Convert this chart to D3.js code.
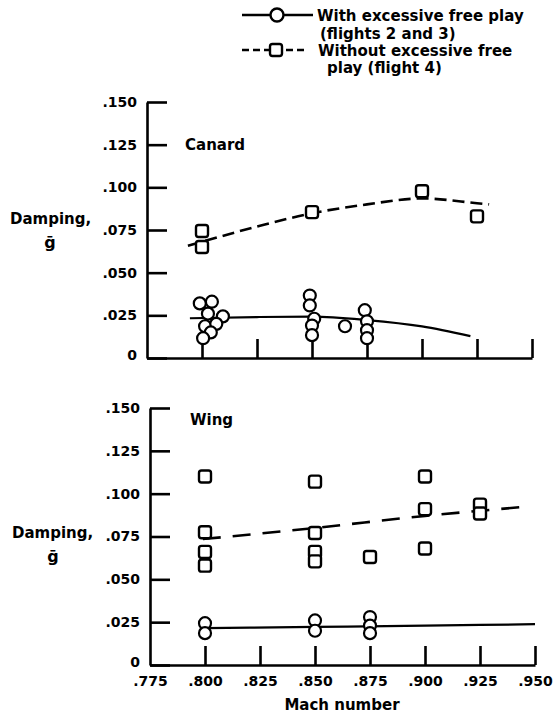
<!DOCTYPE html>
<html>
<head>
<meta charset="utf-8">
<script src="https://cdn.jsdelivr.net/npm/d3@7/dist/d3.min.js"></script>
<style>
  html, body { margin: 0; padding: 0; background: #fff; }
  svg { display: block; }
  text { font-family: "DejaVu Sans", "Liberation Sans", sans-serif; font-weight: bold; fill: #000; }
</style>
</head>
<body>
<svg id="chart" width="555" height="717"></svg>
<script>
// ---------- data ----------
const yTicks = [0, 0.025, 0.05, 0.075, 0.1, 0.125, 0.15];
const yTickLabels = ["0", ".025", ".050", ".075", ".100", ".125", ".150"];
const xTicks = [0.775, 0.8, 0.825, 0.85, 0.875, 0.9, 0.925, 0.95];
const xTickLabels = [".775", ".800", ".825", ".850", ".875", ".900", ".925", ".950"];

// Canard panel
const canardCircleMach = [0.799, 0.8045, 0.8027, 0.8095, 0.8014, 0.8065, 0.804, 0.8005,
                          0.849, 0.849, 0.851, 0.850, 0.850, 0.865,
                          0.874, 0.875, 0.875, 0.875];
const canardCircleDamping = [0.032, 0.033, 0.026, 0.0244, 0.0186, 0.020, 0.015, 0.0116,
                             0.0366, 0.0308, 0.023, 0.019, 0.0134, 0.0186,
                             0.028, 0.0215, 0.0163, 0.0116];
const canardSquareMach = [0.800, 0.800, 0.850, 0.900, 0.925];
const canardSquareDamping = [0.0744, 0.065, 0.0855, 0.0977, 0.083];
const canardSolidMach = [0.7945, 0.825, 0.850, 0.875, 0.900, 0.922];
const canardSolidDamping = [0.0233, 0.0240, 0.0242, 0.0222, 0.0185, 0.0128];
const canardDashMach = [0.7936, 0.825, 0.850, 0.875, 0.900, 0.925, 0.9305];
const canardDashDamping = [0.0657, 0.077, 0.0848, 0.090, 0.0935, 0.0907, 0.090];

// Wing panel
const wingCircleMach = [0.800, 0.800, 0.850, 0.850, 0.875, 0.875, 0.875];
const wingCircleDamping = [0.0244, 0.0186, 0.026, 0.020, 0.028, 0.023, 0.0186];
const wingSquareMach = [0.800, 0.800, 0.800, 0.800, 0.850, 0.850, 0.850, 0.850, 0.875,
                        0.900, 0.900, 0.900, 0.925, 0.925];
const wingSquareDamping = [0.110, 0.0775, 0.066, 0.058, 0.107, 0.077, 0.066, 0.0605, 0.063,
                           0.110, 0.091, 0.068, 0.0936, 0.0884];
const wingSolidMach = [0.800, 0.850, 0.900, 0.950];
const wingSolidDamping = [0.0215, 0.0222, 0.0230, 0.0238];
const wingDashMach = [0.799, 0.850, 0.900, 0.946];
const wingDashDamping = [0.0735, 0.080, 0.087, 0.0924];

const legendLabels = [["With excessive free play", "(flights 2 and 3)"],
                      ["Without excessive free", "play (flight 4)"]];

// ---------- drawing ----------
const svg = d3.select("#chart");
const zip = (a, b) => a.map((v, i) => [v, b[i]]);

function panel(opts) {
  const x = d3.scaleLinear().domain([0.775, 0.95]).range([opts.x0, opts.x1]);
  const y = d3.scaleLinear().domain([0, 0.15]).range([opts.y0, opts.y1]);
  const g = svg.append("g");

  // y axis
  const ya = d3.axisLeft(y).tickValues(yTicks)
    .tickFormat((d, i) => yTickLabels[i])
    .tickSizeInner(-20).tickSizeOuter(0).tickPadding(10);
  const yg = g.append("g").attr("transform", `translate(${opts.x0},0)`).call(ya);
  // x axis
  const xa = d3.axisBottom(x).tickValues(xTicks)
    .tickFormat((d, i) => opts.xLabels ? xTickLabels[i] : "")
    .tickSizeInner(-19).tickSizeOuter(0).tickPadding(11);
  const xg = g.append("g").attr("transform", `translate(0,${opts.y0})`).call(xa);
  [yg, xg].forEach(a => {
    a.selectAll("path, line").attr("stroke", "#000").attr("stroke-width", 2.6);
    a.selectAll("text").style("font-size", "14px").style("font-family", "DejaVu Sans")
      .style("font-weight", "bold").attr("fill", "#000");
  });
  xg.selectAll(".tick").filter(d => d === 0.775).select("line").remove();
  yg.selectAll(".tick").filter(d => d === 0).select("text").attr("dy", "0.1em");

  const line = d3.line().x(d => x(d[0])).y(d => y(d[1])).curve(d3.curveMonotoneX);
  g.append("path").datum(zip(opts.solidMach, opts.solidDamping))
    .attr("d", line).attr("fill", "none").attr("stroke", "#000").attr("stroke-width", 2.2);
  g.append("path").datum(zip(opts.dashMach, opts.dashDamping))
    .attr("d", line).attr("fill", "none").attr("stroke", "#000").attr("stroke-width", 2.6)
    .attr("stroke-dasharray", opts.dash);

  g.selectAll("rect.sq").data(zip(opts.sqMach, opts.sqDamping)).enter().append("rect")
    .attr("class", "sq")
    .attr("x", d => x(d[0]) - 6).attr("y", d => y(d[1]) - 6)
    .attr("width", 12).attr("height", 12).attr("rx", 2.5)
    .attr("fill", "#fff").attr("stroke", "#000").attr("stroke-width", 2.4);
  g.selectAll("circle.ci").data(zip(opts.ciMach, opts.ciDamping)).enter().append("circle")
    .attr("class", "ci")
    .attr("cx", d => x(d[0])).attr("cy", d => y(d[1])).attr("r", 6)
    .attr("fill", "#fff").attr("stroke", "#000").attr("stroke-width", 2.2);

  g.append("text").attr("x", opts.titleX).attr("y", opts.titleY)
    .style("font-size", "15px").text(opts.title);
  g.append("text").attr("x", opts.dampX).attr("y", opts.dampY)
    .style("font-size", "15px").text("Damping,");
  g.append("text").attr("x", opts.gX).attr("y", opts.dampY + 24)
    .attr("text-anchor", "middle").style("font-size", "16px").text("ḡ");
  return { x, y };
}

panel({ x0: 147, x1: 532, y0: 358, y1: 102, xLabels: false,
  ciMach: canardCircleMach, ciDamping: canardCircleDamping,
  sqMach: canardSquareMach, sqDamping: canardSquareDamping,
  solidMach: canardSolidMach, solidDamping: canardSolidDamping,
  dashMach: canardDashMach, dashDamping: canardDashDamping, dash: "12,6",
  title: "Canard", titleX: 185, titleY: 150, dampX: 10, dampY: 224, gX: 50 });

panel({ x0: 150, x1: 535, y0: 665, y1: 408, xLabels: true,
  ciMach: wingCircleMach, ciDamping: wingCircleDamping,
  sqMach: wingSquareMach, sqDamping: wingSquareDamping,
  solidMach: wingSolidMach, solidDamping: wingSolidDamping,
  dashMach: wingDashMach, dashDamping: wingDashDamping, dash: "18,12",
  title: "Wing", titleX: 190, titleY: 425, dampX: 12, dampY: 538, gX: 53 });

svg.append("text").attr("x", 342).attr("y", 710).attr("text-anchor", "middle")
  .style("font-size", "15px").text("Mach number");

// legend
const lg = svg.append("g");
lg.append("line").attr("x1", 242).attr("x2", 313).attr("y1", 15).attr("y2", 15)
  .attr("stroke", "#000").attr("stroke-width", 2.4);
lg.append("circle").attr("cx", 277).attr("cy", 15).attr("r", 6.5)
  .attr("fill", "#fff").attr("stroke", "#000").attr("stroke-width", 2.4);
lg.append("line").attr("x1", 242).attr("x2", 306).attr("y1", 50).attr("y2", 50)
  .attr("stroke", "#000").attr("stroke-width", 2.4).attr("stroke-dasharray", "7,4");
lg.append("rect").attr("x", 270).attr("y", 44).attr("width", 12).attr("height", 12).attr("rx", 2.5)
  .attr("fill", "#fff").attr("stroke", "#000").attr("stroke-width", 2.4);
const legPos = [[[317, 21], [320, 39]], [[318, 56], [327, 73]]];
legendLabels.forEach((pair, i) => pair.forEach((t, j) => {
  lg.append("text").attr("x", legPos[i][j][0]).attr("y", legPos[i][j][1])
    .style("font-size", "15px").text(t);
}));
</script>
</body>
</html>
